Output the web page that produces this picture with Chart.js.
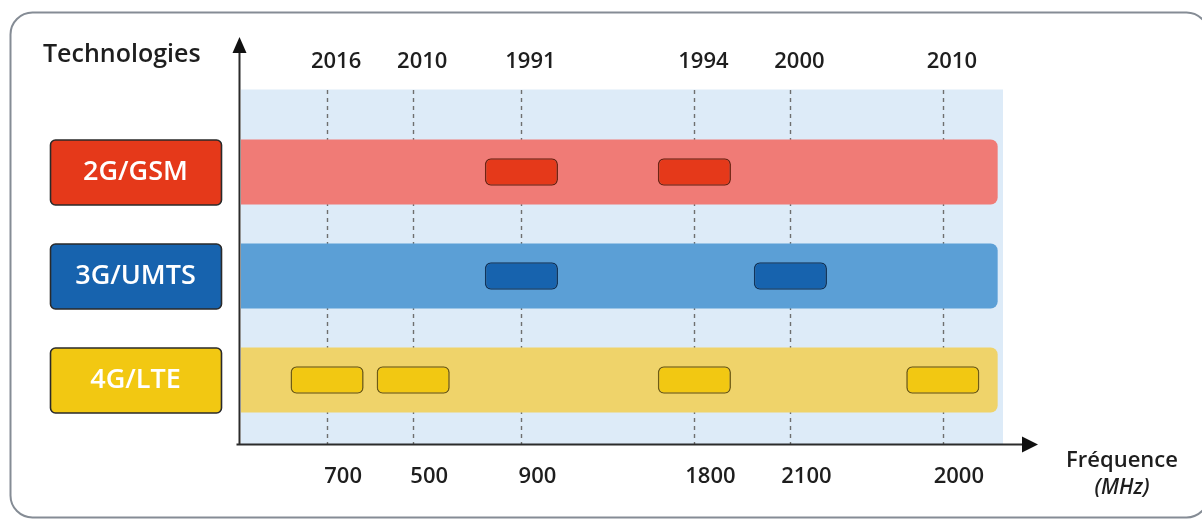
<!DOCTYPE html>
<html lang="fr">
<head>
<meta charset="utf-8">
<title>Technologies et fréquences</title>
<script src="https://cdn.jsdelivr.net/npm/chart.js@4.4.1/dist/chart.umd.min.js"></script>
<style>
    html, body { margin: 0; padding: 0; background: #fff; }
    #wrap { position: relative; width: 1202px; height: 521px; }
</style>
</head>
<body>
<div id="wrap"><canvas id="bandChart"></canvas></div>
<script>
const technologies = ['2G/GSM', '3G/UMTS', '4G/LTE'];
const frequencies = ['700', '500', '900', '1800', '2100', '2000'];
const launchYears = ['2016', '2010', '1991', '1994', '2000', '2010'];
// place de chaque bande sur l'axe horizontal (axe schématique 0 - 100)
const bandAxisPos = [11.3, 22.6, 36.8, 59.5, 72.1, 92.1];
// bandes utilisées par chaque technologie (1 = oui)
const gsmBands  = [0, 0, 1, 1, 0, 0];
const umtsBands = [0, 0, 1, 0, 1, 0];
const lteBands  = [1, 1, 0, 1, 0, 1];
// étendue des lignes de fond
const rowSpan = [0, 99.3];

// couleurs
const rowColors = ['#f07b76', '#5b9fd6', '#efd36a'];
const bandColors = ['#e5391a', '#1763ae', '#f2c812'];
const bandBorders = ['#6e2414', '#12345a', '#6f5c16'];
const BAND_HALF = 4.8;
const FONT = '"Open Sans", "Noto Sans", sans-serif';

function buildDatasets() {
    const usage = [gsmBands, umtsBands, lteBands];
    const sets = [{
        label: 'ligne',
        data: technologies.map(() => rowSpan),
        backgroundColor: rowColors,
        borderWidth: 0,
        borderRadius: { topLeft: 0, bottomLeft: 0, topRight: 7, bottomRight: 7 },
        borderSkipped: false,
        barPercentage: 0.625,
        categoryPercentage: 1,
        grouped: false,
        order: 2
    }];
    frequencies.forEach((f, i) => {
        sets.push({
            label: f + ' MHz',
            data: usage.map(u => u[i] ? [bandAxisPos[i] - BAND_HALF, bandAxisPos[i] + BAND_HALF] : null),
            backgroundColor: bandColors,
            borderColor: bandBorders,
            borderWidth: 1.6,
            borderRadius: 6,
            borderSkipped: false,
            barPercentage: 0.265,
            categoryPercentage: 1,
            grouped: false,
            order: 1
        });
    });
    return sets;
}

function roundRect(c, x, y, w, h, r) {
    c.beginPath();
    c.moveTo(x + r, y);
    c.arcTo(x + w, y, x + w, y + h, r);
    c.arcTo(x + w, y + h, x, y + h, r);
    c.arcTo(x, y + h, x, y, r);
    c.arcTo(x, y, x + w, y, r);
    c.closePath();
}

// fond, cadre, pointillés, axes et textes
const schemaPlugin = {
    id: 'schema',
    beforeDatasetsDraw(chart) {
        const c = chart.ctx;
        const area = chart.chartArea;
        const xs = chart.scales.x;
        const axisY = area.bottom + 12.5;
        c.save();
        // cadre arrondi (coupé à droite)
        c.strokeStyle = '#858c95';
        c.lineWidth = 2;
        roundRect(c, 10.5, 12.5, 1198, 505, 22);
        c.stroke();
        // zone bleue
        c.fillStyle = '#ddebf8';
        c.fillRect(area.left, area.top - 30.5, area.right - area.left, axisY - (area.top - 30.5));
        // lignes pointillées
        c.strokeStyle = '#6f6f6f';
        c.lineWidth = 1.4;
        c.setLineDash([4, 4]);
        bandAxisPos.forEach(p => {
            const x = Math.round(xs.getPixelForValue(p)) + 0.5;
            c.beginPath();
            c.moveTo(x, area.top - 30);
            c.lineTo(x, axisY);
            c.stroke();
        });
        c.restore();
    },
    afterDatasetsDraw(chart) {
        const c = chart.ctx;
        const area = chart.chartArea;
        const xs = chart.scales.x;
        const ys = chart.scales.y;
        const axisY = area.bottom + 12.5;
        const axisX = area.left - 1.5;
        c.save();
        // axes
        c.strokeStyle = '#2b2b2b';
        c.fillStyle = '#111';
        c.lineWidth = 2;
        c.beginPath();
        c.moveTo(axisX, axisY);
        c.lineTo(axisX, 50);
        c.moveTo(axisX - 3, axisY);
        c.lineTo(1025, axisY);
        c.stroke();
        c.beginPath();
        c.moveTo(axisX, 37);
        c.lineTo(axisX - 7, 53);
        c.lineTo(axisX + 7, 53);
        c.closePath();
        c.fill();
        c.beginPath();
        c.moveTo(1038, axisY);
        c.lineTo(1022, axisY - 8);
        c.lineTo(1022, axisY + 8);
        c.closePath();
        c.fill();

        // titres
        c.fillStyle = '#1e1e1e';
        c.textAlign = 'left';
        c.font = '600 25px ' + FONT;
        c.fillText('Technologies', 43, 62);
        c.textAlign = 'center';
        c.font = '600 22px ' + FONT;
        c.fillText('Fréquence', 1122, 467);
        c.font = 'italic 600 21px ' + FONT;
        c.fillText('(MHz)', 1122, 494);

        // années en haut, fréquences en bas
        c.font = '600 22px ' + FONT;
        bandAxisPos.forEach((p, i) => {
            const x = xs.getPixelForValue(p);
            c.fillText(launchYears[i], x + 9, 68);
            c.fillText(frequencies[i], x + 16, 483);
        });

        // étiquettes des technologies
        technologies.forEach((t, i) => {
            const yc = ys.getPixelForValue(i);
            roundRect(c, 50.5, yc - 32, 171, 65, 5);
            c.fillStyle = bandColors[i];
            c.fill();
            c.strokeStyle = '#2a2a2a';
            c.lineWidth = 1.6;
            c.stroke();
            c.fillStyle = '#ffffff';
            c.font = '600 27px ' + FONT;
            c.fillText(t, 135.5, yc + 8);
        });
        c.restore();
    }
};

let bandChart = null;

function initChart() {
    const ctx = document.getElementById('bandChart').getContext('2d');
    bandChart = new Chart(ctx, {
        type: 'bar',
        data: {
            labels: technologies,
            datasets: buildDatasets()
        },
        options: {
            indexAxis: 'y',
            responsive: true,
            maintainAspectRatio: false,
            animation: false,
            layout: {
                padding: { left: 241, right: 199, top: 120, bottom: 89 }
            },
            scales: {
                x: { type: 'linear', min: 0, max: 100, display: false },
                y: { type: 'category', display: false }
            },
            plugins: {
                legend: { display: false },
                tooltip: { enabled: true }
            }
        },
        plugins: [schemaPlugin]
    });
}

document.addEventListener('DOMContentLoaded', function() {
    initChart();
});
</script>
</body>
</html>
